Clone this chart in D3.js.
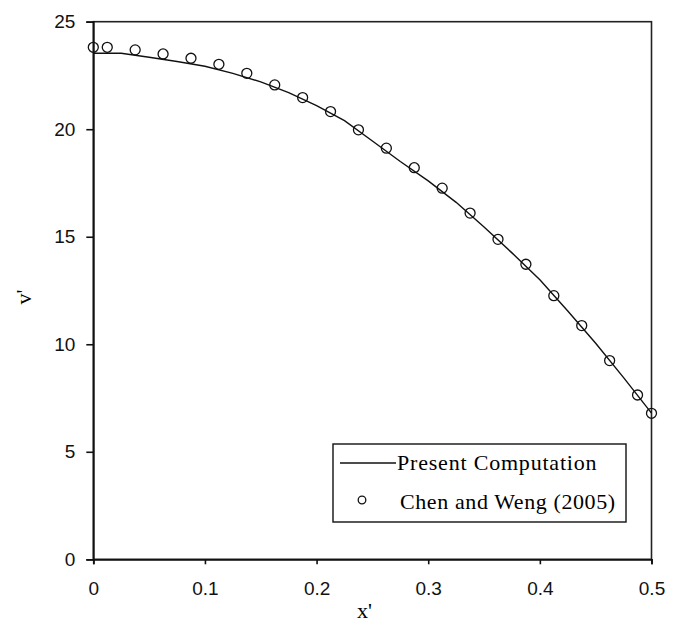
<!DOCTYPE html>
<html>
<head>
<meta charset="utf-8">
<script src="https://cdn.jsdelivr.net/npm/d3@7"></script>
<style>
  body { margin: 0; background: #fff; }
  .tick text { font-family: "Liberation Sans", Arial, sans-serif; font-size: 19px; fill: #111; }
</style>
</head>
<body>
<div class="chart"></div>
<script>
// Present computation (solid line)
let lineX = [0, 0.025, 0.05, 0.075, 0.1, 0.125, 0.15, 0.175, 0.2, 0.225, 0.25,
             0.275, 0.3, 0.325, 0.35, 0.375, 0.4, 0.425, 0.45, 0.475, 0.5];
let lineY = [23.53, 23.53, 23.35, 23.15, 22.93, 22.6, 22.2, 21.7, 21.1, 20.4, 19.45,
             18.5, 17.6, 16.6, 15.45, 14.25, 13.0, 11.55, 10.05, 8.45, 6.8];

// Chen and Weng (2005) (open circles)
let dotX = [0, 0.0125, 0.0375, 0.0625, 0.0875, 0.1125, 0.1375, 0.1625, 0.1875, 0.2125, 0.2375,
            0.2625, 0.2875, 0.3125, 0.3375, 0.3625, 0.3875, 0.4125, 0.4375, 0.4625, 0.4875, 0.5];
let dotY = [23.81, 23.81, 23.69, 23.5, 23.3, 23.02, 22.6, 22.06, 21.47, 20.82, 19.97,
            19.12, 18.21, 17.26, 16.1, 14.88, 13.72, 12.26, 10.87, 9.24, 7.64, 6.79];

let xTicks = [0, 0.1, 0.2, 0.3, 0.4, 0.5];
let yTicks = [0, 5, 10, 15, 20, 25];

let margin = { top: 21.7, right: 26.5, bottom: 66.7, left: 93.3 },
    width = 678 - margin.left - margin.right,
    height = 626 - margin.top - margin.bottom;

let svg = d3.select('.chart')
    .append('svg')
    .attr('width', 678)
    .attr('height', 626)
    .append('g')
    .attr('transform', 'translate(' + margin.left + ',' + margin.top + ')');

let x = d3.scaleLinear().domain([0, 0.5]).range([0, width]);
let y = d3.scaleLinear().domain([0, 25]).range([height, 0]);

// frame
svg.append('rect')
    .attr('width', width)
    .attr('height', height)
    .style('fill', 'none')
    .style('stroke', '#222')
    .style('stroke-width', 1.6);

// axes
let xAxis = d3.axisBottom(x).tickValues(xTicks).tickSize(5).tickPadding(17)
    .tickFormat(d => d === 0 ? '0' : d3.format('.1f')(d));
let yAxis = d3.axisLeft(y).tickValues(yTicks).tickSize(7).tickPadding(11);

let gx = svg.append('g')
    .attr('transform', 'translate(0,' + height + ')')
    .call(xAxis);
let gy = svg.append('g').call(yAxis);
[gx, gy].forEach(g => {
    g.select('.domain').style('stroke', '#111').style('stroke-width', 1.8);
    g.selectAll('.tick line').style('stroke', '#111').style('stroke-width', 1.6);
});

// line
let line = d3.line()
    .x(d => x(d[0]))
    .y(d => y(d[1]));
svg.append('path')
    .datum(lineX.map((v, i) => [v, lineY[i]]))
    .attr('d', line)
    .style('fill', 'none')
    .style('stroke', '#111')
    .style('stroke-width', 1.4);

// circles
svg.selectAll('circle.pt')
    .data(dotX.map((v, i) => [v, dotY[i]]))
    .enter().append('circle')
    .attr('class', 'pt')
    .attr('cx', d => x(d[0]))
    .attr('cy', d => y(d[1]))
    .attr('r', 5)
    .style('fill', 'none')
    .style('stroke', '#111')
    .style('stroke-width', 1.3);

// axis names
svg.append('text')
    .attr('text-anchor', 'middle')
    .attr('transform', 'translate(' + (x(0.25) - 8) + ',' + (height + 59) + ')')
    .style('font-family', '"Liberation Serif", serif')
    .style('font-size', '22px')
    .text("x'");

svg.append('text')
    .attr('text-anchor', 'middle')
    .attr('transform', 'translate(' + (-margin.left + 31) + ',' + (y(12.2)) + ')rotate(-90)')
    .style('font-family', '"Liberation Serif", serif')
    .style('font-size', '22px')
    .text("v'");

// legend
let lx = 333 - margin.left, ly = 444 - margin.top;
let legend = svg.append('g').attr('transform', 'translate(' + lx + ',' + ly + ')');
legend.append('rect')
    .attr('width', 293)
    .attr('height', 78)
    .style('fill', '#fff')
    .style('stroke', '#111')
    .style('stroke-width', 1.4);
legend.append('line')
    .attr('x1', 7).attr('x2', 63)
    .attr('y1', 19).attr('y2', 19)
    .style('stroke', '#111')
    .style('stroke-width', 1.4);
legend.append('text')
    .attr('x', 64).attr('y', 26)
    .style('font-family', '"Liberation Serif", serif')
    .style('font-size', '22px')
    .style('letter-spacing', '0.8px')
    .text('Present Computation');
legend.append('circle')
    .attr('cx', 29).attr('cy', 56).attr('r', 3.8)
    .style('fill', 'none')
    .style('stroke', '#111')
    .style('stroke-width', 1.3);
legend.append('text')
    .attr('x', 67).attr('y', 65)
    .style('font-family', '"Liberation Serif", serif')
    .style('font-size', '22px')
    .style('letter-spacing', '0.6px')
    .text('Chen and Weng (2005)');
</script>
</body>
</html>
